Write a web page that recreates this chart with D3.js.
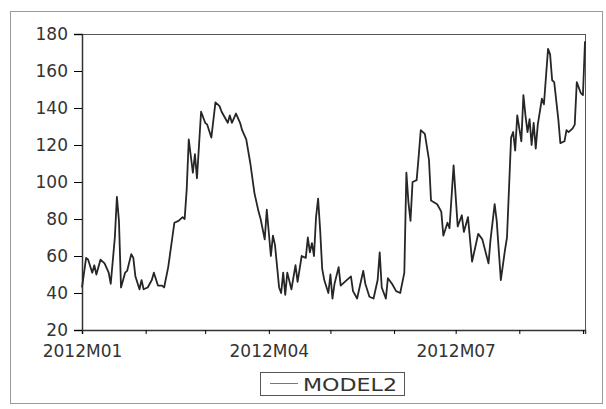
<!DOCTYPE html>
<html>
<head>
<meta charset="UTF-8" />
<script src="https://d3js.org/d3.v7.min.js"></script>
<style>
  body { margin: 0; background: #fff; }
  svg { display: block; font-family: "DejaVu Sans", sans-serif; }
  .line { fill: none; stroke: #262626; stroke-width: 1.8px; stroke-linejoin: round; }
</style>
</head>
<body>
<svg width="606" height="409"></svg>
<script>
  // days counted from 2012-01-01
  const startDate = new Date(2012, 0, 1);
  const dayOffsets = [0,2,3,5,6,7,9,11,13,14,16,17,18,19,21,22,24,25,26,28,
    29,30,32,34,35,37,39,40,42,44,45,47,49,50,51,52,54,55,56,58,
    60,61,63,65,67,68,71,72,73,75,77,78,80,82,84,86,87,89,90,92,
    93,94,96,97,98,99,100,102,104,105,107,109,110,111,112,113,114,115,116,117,
    118,120,121,122,123,125,126,128,131,132,134,136,137,138,140,142,144,145,146,148,
    149,151,153,155,157,158,159,160,161,163,164,165,167,169,170,173,175,176,178,179,
    181,183,185,186,188,190,193,195,198,199,201,202,204,206,207,209,210,211,212,214,
    215,216,217,218,219,220,221,222,224,225,227,228,229,230,232,233,235,236,237,239,
    240,241,243,244,245];
  const model2 = [43,59,58,51,55,50,58,56,51,45,70,92,79,43,51,52,61,59,49,42,
    47,42,43,47,51,44,44,43,54,70,78,79,81,80,96,123,105,115,102,138,
    132,131,124,143,141,138,132,136,132,137,132,128,123,110,94,84,80,69,85,60,
    71,66,43,40,51,39,51,42,55,46,60,59,70,62,67,60,81,91,74,53,
    47,40,50,37,45,54,44,46,49,41,37,47,52,45,38,37,47,62,43,37,
    48,45,41,40,51,105,89,79,100,101,114,128,126,112,90,88,84,71,78,75,
    109,76,82,73,81,57,72,69,56,69,88,79,47,63,70,124,127,117,136,122,
    147,136,127,134,120,132,118,131,145,142,172,169,155,154,134,121,122,128,127,129,
    131,154,148,147,176];
  const yTicks = [20, 40, 60, 80, 100, 120, 140, 160, 180];
  const tickLabels = {0: "2012M01", 3: "2012M04", 6: "2012M07"};
  const seriesName = "MODEL2";

  const svg = d3.select("svg"),
        margin = {top: 34, right: 21, bottom: 79, left: 82},
        width = +svg.attr("width") - margin.left - margin.right,
        height = +svg.attr("height") - margin.top - margin.bottom;

  const data = dayOffsets.map((d, i) => ({date: d3.timeDay.offset(startDate, d), val: model2[i]}));

  // outer frame of the scanned figure
  svg.append("rect")
    .attr("x", 10.5).attr("y", 11.5)
    .attr("width", 592).attr("height", 392)
    .attr("fill", "none").attr("stroke", "#9a9a9a");

  const g = svg.append("g").attr("transform", `translate(${margin.left},${margin.top})`);

  const x = d3.scaleTime()
    .domain([startDate, d3.timeDay.offset(startDate, 245)])
    .range([0, width]);

  const y = d3.scaleLinear()
    .domain([20, 180])
    .range([height, 0]);

  // plot box
  g.append("rect")
    .attr("x", 0.5).attr("y", 0.5)
    .attr("width", width).attr("height", height)
    .attr("fill", "none").attr("stroke", "#555");

  const monthTicks = d3.range(0, 9).map(m => new Date(2012, m, 1));

  const xAxis = g.append("g")
    .attr("transform", `translate(0,${height})`)
    .call(d3.axisBottom(x)
      .tickValues(monthTicks)
      .tickSize(4)
      .tickPadding(11)
      .tickFormat(d => tickLabels[d.getMonth()] || ""));
  xAxis.select(".domain").attr("stroke", "#333").attr("stroke-width", 1.5);
  xAxis.selectAll("text").attr("font-size", 17).attr("fill", "#333").attr("font-family", "DejaVu Sans");

  const yAxis = g.append("g")
    .call(d3.axisLeft(y).tickValues(yTicks).tickSize(8).tickPadding(6));
  yAxis.select(".domain").attr("stroke", "#333").attr("stroke-width", 1.5);
  yAxis.selectAll("text").attr("font-size", 17).attr("fill", "#333").attr("font-family", "DejaVu Sans");

  const lineGen = d3.line()
    .x(d => x(d.date))
    .y(d => y(d.val));

  g.append("path")
    .datum(data)
    .attr("class", "line")
    .attr("d", lineGen);

  // legend
  const legend = svg.append("g").attr("transform", "translate(260,372)");
  legend.append("rect")
    .attr("x", 0.5).attr("y", 0.5)
    .attr("width", 144).attr("height", 23)
    .attr("fill", "#fff").attr("stroke", "#555");
  legend.append("line")
    .attr("x1", 10).attr("x2", 38)
    .attr("y1", 11.5).attr("y2", 11.5)
    .attr("stroke", "#777").attr("stroke-width", 1);
  legend.append("text")
    .attr("x", 43).attr("y", 19)
    .attr("font-size", 18)
    .attr("fill", "#333")
    .attr("textLength", 94)
    .attr("lengthAdjust", "spacingAndGlyphs")
    .text(seriesName);
</script>
</body>
</html>
